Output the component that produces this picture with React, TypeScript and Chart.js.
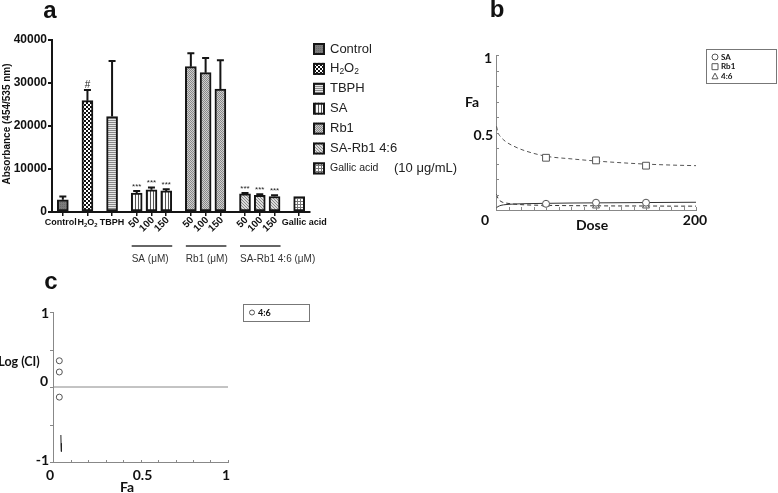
import React, { useEffect, useRef } from "react";
import { Chart, registerables } from "chart.js";

Chart.register(...registerables);

const FONT_A = '"Liberation Sans", Arial, sans-serif';
const FONT_BC = 'Lato, "Noto Sans", sans-serif';

// ---------------- Panel a data ----------------
const barLabels = ["Control", "H₂O₂", "TBPH", "50", "100", "150", "50", "100", "150", "50", "100", "150", "Gallic acid"];
const barGroups = ["", "", "", "SA (μM)", "SA (μM)", "SA (μM)", "Rb1 (μM)", "Rb1 (μM)", "Rb1 (μM)", "SA-Rb1 4:6 (μM)", "SA-Rb1 4:6 (μM)", "SA-Rb1 4:6 (μM)", ""];
const barFills = ["Control", "H2O2", "TBPH", "SA", "SA", "SA", "Rb1", "Rb1", "Rb1", "SARb1", "SARb1", "SARb1", "Gallic"];
const absorbance = [2850, 25900, 22200, 4400, 5150, 4900, 33800, 32400, 28600, 4200, 3850, 3600, 3600];
const absorbanceErr = [750, 2500, 12900, 500, 550, 400, 3100, 3400, 6700, 200, 300, 300, 0];
const significance = ["", "#", "", "***", "***", "***", "", "", "", "***", "***", "***", ""];
const yTicksA = [0, 10000, 20000, 30000, 40000];
const yTitleA = "Absorbance (454/535 nm)";
const legendLabelsA = ["Control", "H₂O₂", "TBPH", "SA", "Rb1", "SA-Rb1 4:6", "Gallic acid"];
const legendFillsA = ["Control", "H2O2", "TBPH", "SA", "Rb1", "SARb1", "Gallic"];
const gallicNote = "(10 μg/mL)";

// ---------------- Panel b data ----------------
const doseMarks = [50, 100, 150];
const faSA = [0.04, 0.047, 0.047];
const faRb1 = [0.337, 0.32, 0.286];
const fa46 = [0.038, 0.026, 0.026];
const curveDoses = [0.5, 2, 5, 10, 20, 30, 50, 75, 100, 125, 150, 175, 200];
const curveSA = [0.015, 0.022, 0.03, 0.035, 0.039, 0.041, 0.043, 0.045, 0.046, 0.047, 0.048, 0.049, 0.05];
const curveRb1 = [0.54, 0.5, 0.47, 0.44, 0.405, 0.38, 0.347, 0.33, 0.316, 0.305, 0.296, 0.29, 0.286];
const curve46 = [0.1, 0.075, 0.055, 0.045, 0.037, 0.033, 0.03, 0.028, 0.027, 0.026, 0.026, 0.025, 0.025];
const legendLabelsB = ["SA", "Rb1", "4:6"];

// ---------------- Panel c data ----------------
const faCombo = [0.036, 0.036, 0.036];
const logCI = [0.35, 0.2, -0.135];
const ciCurveFa = [0.045, 0.046, 0.048];
const ciCurveLog = [-0.64, -0.75, -0.86];
const refLineFa = [0, 1];
const refLineLog = [0, 0];
const legendLabelC = "4:6";

// ---------------- helpers ----------------
const SUB = "₀₁₂₃₄₅₆₇₈₉";
function drawRich(ctx: any, text: string, x: number, y: number, size: number, weight: string, family: string, align: string) {
  const parts = [...text].map((ch) => {
    const k = SUB.indexOf(ch);
    return k >= 0 ? { t: String(k), sub: true } : { t: ch, sub: false };
  });
  const fontFor = (p: any) => `${weight} ${p.sub ? size * 0.65 : size}px ${family}`;
  let total = 0;
  parts.forEach((p) => {
    ctx.font = fontFor(p);
    total += ctx.measureText(p.t).width;
  });
  let cx = align === "center" ? x - total / 2 : align === "right" ? x - total : x;
  ctx.textAlign = "left";
  parts.forEach((p) => {
    ctx.font = fontFor(p);
    ctx.fillText(p.t, cx, y + (p.sub ? size * 0.25 : 0));
    cx += ctx.measureText(p.t).width;
  });
}

function barSlots() {
  const out: number[] = [];
  let s = 0;
  barLabels.forEach((_, i) => {
    if (i > 0) s += barGroups[i] && barGroups[i] === barGroups[i - 1] ? 3 : 5;
    out.push(s);
  });
  return out;
}

function makePatterns() {
  const mk = (w: number, h: number, draw: (g: any) => void) => {
    const c = document.createElement("canvas");
    c.width = w;
    c.height = h;
    const g = c.getContext("2d") as any;
    draw(g);
    return g.createPattern(c, "repeat");
  };
  return {
    Control: mk(2, 2, (g) => {
      g.fillStyle = "#7c7c7c"; g.fillRect(0, 0, 2, 2);
      g.fillStyle = "#6a6a6a"; g.fillRect(0, 0, 1, 1);
    }),
    H2O2: mk(4, 4, (g) => {
      g.fillStyle = "#fff"; g.fillRect(0, 0, 4, 4);
      g.fillStyle = "#111"; g.fillRect(0, 0, 2, 2); g.fillRect(2, 2, 2, 2);
    }),
    TBPH: mk(2, 2, (g) => {
      g.fillStyle = "#e6e6e6"; g.fillRect(0, 0, 2, 2);
      g.fillStyle = "#888"; g.fillRect(0, 0, 2, 1);
    }),
    SA: mk(3, 3, (g) => {
      g.fillStyle = "#fafafa"; g.fillRect(0, 0, 3, 3);
      g.fillStyle = "#555"; g.fillRect(0, 0, 1, 3);
    }),
    Rb1: mk(2, 2, (g) => {
      g.fillStyle = "#cfcfcf"; g.fillRect(0, 0, 2, 2);
      g.fillStyle = "#888"; g.fillRect(0, 0, 1, 1); g.fillRect(1, 1, 1, 1);
    }),
    SARb1: mk(3, 3, (g) => {
      g.fillStyle = "#dcdcdc"; g.fillRect(0, 0, 3, 3);
      g.fillStyle = "#8a8a8a"; g.fillRect(0, 0, 1, 1); g.fillRect(1, 1, 1, 1); g.fillRect(2, 2, 1, 1);
    }),
    Gallic: mk(3, 3, (g) => {
      g.fillStyle = "#fff"; g.fillRect(0, 0, 3, 3);
      g.fillStyle = "#777"; g.fillRect(0, 0, 3, 1); g.fillRect(0, 0, 1, 3);
    }),
  } as any;
}

// ---------------- Panel a ----------------
function configA(patterns: any) {
  const slots = barSlots();
  const plugin = {
    id: "panelA",
    afterDatasetsDraw(chart: any) {
      const ctx = chart.ctx;
      const meta = chart.getDatasetMeta(0);
      const ys = chart.scales.y;
      ctx.save();
      meta.data.forEach((bar: any, i: number) => {
        const top = ys.getPixelForValue(absorbance[i] + absorbanceErr[i]);
        if (absorbanceErr[i] > 0) {
          ctx.strokeStyle = "#151515";
          ctx.lineWidth = 2;
          ctx.beginPath();
          ctx.moveTo(bar.x, bar.y);
          ctx.lineTo(bar.x, top);
          ctx.moveTo(bar.x - 3.5, top);
          ctx.lineTo(bar.x + 3.5, top);
          ctx.stroke();
        }
        if (significance[i]) {
          ctx.fillStyle = "#222";
          ctx.font = `${significance[i] === "#" ? 10 : 8}px ${FONT_A}`;
          ctx.textAlign = "center";
          ctx.textBaseline = "alphabetic";
          ctx.fillText(significance[i], bar.x, top - 2);
        }
      });
      ctx.restore();
    },
    afterDraw(chart: any) {
      const ctx = chart.ctx;
      const meta = chart.getDatasetMeta(0);
      ctx.save();
      ctx.fillStyle = "#111";
      // x labels
      meta.data.forEach((bar: any, i: number) => {
        if (barGroups[i]) {
          ctx.save();
          ctx.translate(bar.x + 1.5, 218.5);
          ctx.rotate(-Math.PI / 4);
          ctx.font = `bold 10px ${FONT_A}`;
          ctx.textAlign = "right";
          ctx.textBaseline = "middle";
          ctx.fillText(barLabels[i], 0, 0);
          ctx.restore();
        } else {
          ctx.textBaseline = "middle";
          const dx = i === 0 ? -2 : i === barLabels.length - 1 ? 5 : 0;
          drawRich(ctx, barLabels[i], bar.x + dx, 223, 9, "bold", FONT_A, "center");
        }
      });
      // group lines and labels
      const groups: string[] = [];
      barGroups.forEach((g) => { if (g && !groups.includes(g)) groups.push(g); });
      groups.forEach((g) => {
        const idx = barGroups.map((v, i) => (v === g ? i : -1)).filter((i) => i >= 0);
        const x1 = meta.data[idx[0]].x - 5;
        const x2 = meta.data[idx[idx.length - 1]].x + 6;
        ctx.strokeStyle = "#333";
        ctx.lineWidth = 1.5;
        ctx.beginPath();
        ctx.moveTo(x1, 246);
        ctx.lineTo(x2, 246);
        ctx.stroke();
        ctx.fillStyle = "#333";
        ctx.font = `10px ${FONT_A}`;
        ctx.textAlign = "left";
        ctx.textBaseline = "middle";
        ctx.fillText(g, x1, 259);
      });
      // y title
      ctx.save();
      ctx.translate(7, 124);
      ctx.rotate(-Math.PI / 2);
      ctx.fillStyle = "#111";
      ctx.font = `bold 10px ${FONT_A}`;
      ctx.textAlign = "center";
      ctx.textBaseline = "middle";
      ctx.fillText(yTitleA, 0, 0);
      ctx.restore();
      // legend
      legendLabelsA.forEach((lab, i) => {
        const cy = 49 + i * 19.9;
        ctx.fillStyle = patterns[legendFillsA[i]];
        ctx.fillRect(313, cy - 6, 12, 12);
        ctx.strokeStyle = "#151515";
        ctx.lineWidth = 2;
        ctx.strokeRect(314, cy - 5, 10, 10);
        ctx.fillStyle = "#222";
        ctx.textBaseline = "middle";
        const size = lab === "Gallic acid" ? 10.5 : 13;
        drawRich(ctx, lab, 330, cy, size, "normal", FONT_A, "left");
        if (lab === "Gallic acid") {
          ctx.font = `13px ${FONT_A}`;
          ctx.textAlign = "left";
          ctx.fillText(gallicNote, 394, cy);
        }
      });
      // panel letter
      ctx.fillStyle = "#111";
      ctx.font = `bold 24px ${FONT_A}`;
      ctx.textAlign = "center";
      ctx.textBaseline = "alphabetic";
      ctx.fillText("a", 50, 18);
      ctx.restore();
    },
  };
  return {
    type: "bar",
    data: {
      datasets: [
        {
          data: slots.map((s, i) => ({ x: s, y: absorbance[i] })),
          backgroundColor: barFills.map((k) => patterns[k]),
          borderColor: "#151515",
          borderWidth: 2,
          borderSkipped: false,
          barThickness: 11,
        },
      ],
    },
    options: {
      animation: false,
      responsive: true,
      maintainAspectRatio: false,
      events: [],
      layout: { padding: { left: 0, top: 40, right: 150, bottom: 0 } },
      plugins: { legend: { display: false }, tooltip: { enabled: false } },
      scales: {
        x: {
          type: "linear",
          min: -2.2,
          max: 50.2,
          offset: false,
          afterBuildTicks: (s: any) => { s.ticks = slots.map((v) => ({ value: v })); },
          afterFit: (s: any) => { s.height = 78; },
          ticks: { display: false },
          grid: { display: true, offset: false, drawOnChartArea: false, drawTicks: true, tickLength: 4, color: "#151515", lineWidth: 1.5 },
          border: { display: true, color: "#151515", width: 2 },
        },
        y: {
          type: "linear",
          min: 0,
          max: 40000,
          afterBuildTicks: (s: any) => { s.ticks = yTicksA.map((v) => ({ value: v })); },
          afterFit: (s: any) => { s.width = 52; },
          ticks: { font: { family: FONT_A, weight: "bold", size: 12 }, color: "#111", padding: 1, callback: (v: any) => String(v) },
          grid: { display: true, drawOnChartArea: false, drawTicks: true, tickLength: 4, color: "#151515", lineWidth: 2 },
          border: { display: true, color: "#151515", width: 2 },
        },
      },
    },
    plugins: [plugin],
  } as any;
}

// ---------------- Panel b ----------------
function drawMarker(ctx: any, style: string, x: number, y: number, r: number) {
  ctx.beginPath();
  if (style === "circle") ctx.arc(x, y, r, 0, Math.PI * 2);
  else if (style === "rect") ctx.rect(x - r, y - r, 2 * r, 2 * r);
  else {
    ctx.moveTo(x, y - r * 1.1);
    ctx.lineTo(x + r, y + r * 0.8);
    ctx.lineTo(x - r, y + r * 0.8);
    ctx.closePath();
  }
  ctx.fillStyle = "#fff";
  ctx.fill();
  ctx.stroke();
}

function configB() {
  const markerStyles = ["circle", "rect", "triangle"];
  const plugin = {
    id: "panelB",
    afterDraw(chart: any) {
      const ctx = chart.ctx;
      const xs = chart.scales.x;
      const ys = chart.scales.y;
      const { left, bottom } = chart.chartArea;
      ctx.save();
      ctx.strokeStyle = "#888";
      ctx.lineWidth = 1;
      ctx.beginPath();
      for (let v = 0; v <= 1.0001; v += 0.1) {
        const y = Math.round(ys.getPixelForValue(v)) + 0.5;
        ctx.moveTo(left, y);
        ctx.lineTo(left + 3, y);
      }
      for (let v = 12.5; v <= 200; v += 12.5) {
        const x = Math.round(xs.getPixelForValue(v)) + 0.5;
        ctx.moveTo(x, bottom);
        ctx.lineTo(x, bottom - 3);
      }
      ctx.stroke();
      ctx.fillStyle = "#111";
      ctx.font = `bold 14px ${FONT_BC}`;
      ctx.textBaseline = "middle";
      ctx.textAlign = "right";
      ctx.fillText("1", left - 4, ys.getPixelForValue(1) + 3);
      ctx.fillText("0.5", left - 3, ys.getPixelForValue(0.5) + 2.5);
      ctx.textAlign = "center";
      ctx.fillText("0", xs.getPixelForValue(0) - 11, bottom + 10);
      ctx.fillText("200", xs.getPixelForValue(200) - 1, bottom + 10);
      ctx.fillText("Fa", 12, 102);
      ctx.fillText("Dose", 132, 225);
      // legend
      ctx.strokeStyle = "#777";
      ctx.lineWidth = 1;
      ctx.strokeRect(246.5, 49.5, 70, 34);
      legendLabelsB.forEach((lab, i) => {
        const cy = 57 + i * 9.7;
        ctx.strokeStyle = "#555";
        drawMarker(ctx, markerStyles[i], 255, cy, 3);
        ctx.fillStyle = "#111";
        ctx.font = `bold 8px ${FONT_BC}`;
        ctx.textAlign = "left";
        ctx.fillText(lab, 261, cy);
      });
      ctx.fillStyle = "#111";
      ctx.font = `bold 24px ${FONT_A}`;
      ctx.textAlign = "center";
      ctx.textBaseline = "alphabetic";
      ctx.fillText("b", 37, 17);
      ctx.restore();
    },
  };
  const pts = (xs: number[], ys: number[]) => xs.map((x, i) => ({ x, y: ys[i] }));
  const marker = { showLine: false, borderColor: "#555", backgroundColor: "#fff", borderWidth: 1 };
  const curve = { showLine: true, pointRadius: 0, borderWidth: 1, cubicInterpolationMode: "monotone" };
  return {
    type: "scatter",
    data: {
      datasets: [
        { ...marker, label: "SA", data: pts(doseMarks, faSA), pointStyle: "circle", pointRadius: 3.5 },
        { ...marker, label: "Rb1", data: pts(doseMarks, faRb1), pointStyle: "rect", pointRadius: 4.8 },
        { ...marker, label: "4:6", data: pts(doseMarks, fa46), pointStyle: "triangle", pointRadius: 4 },
        { ...curve, label: "SA fit", data: pts(curveDoses, curveSA), borderColor: "#333" },
        { ...curve, label: "Rb1 fit", data: pts(curveDoses, curveRb1), borderColor: "#555", borderDash: [4, 3] },
        { ...curve, label: "4:6 fit", data: pts(curveDoses, curve46), borderColor: "#333", borderDash: [4, 3] },
      ],
    },
    options: {
      animation: false,
      responsive: true,
      maintainAspectRatio: false,
      events: [],
      layout: { padding: { left: 0, top: 55, right: 82, bottom: 0 } },
      plugins: { legend: { display: false }, tooltip: { enabled: false } },
      scales: {
        x: {
          type: "linear", min: 0, max: 200,
          afterFit: (s: any) => { s.height = 30; },
          ticks: { display: false },
          grid: { display: true, drawOnChartArea: false, drawTicks: false },
          border: { display: true, color: "#888", width: 1 },
        },
        y: {
          type: "linear", min: 0, max: 1,
          afterFit: (s: any) => { s.width = 36; },
          ticks: { display: false },
          grid: { display: true, drawOnChartArea: false, drawTicks: false },
          border: { display: true, color: "#888", width: 1 },
        },
      },
    },
    plugins: [plugin],
  } as any;
}

// ---------------- Panel c ----------------
function configC() {
  const plugin = {
    id: "panelC",
    afterDraw(chart: any) {
      const ctx = chart.ctx;
      const xs = chart.scales.x;
      const ys = chart.scales.y;
      const { left, bottom } = chart.chartArea;
      ctx.save();
      ctx.strokeStyle = "#888";
      ctx.lineWidth = 1;
      ctx.beginPath();
      for (let v = -1; v <= 1.0001; v += 0.5) {
        const y = Math.round(ys.getPixelForValue(v)) + 0.5;
        ctx.moveTo(left, y);
        ctx.lineTo(left - 3, y);
      }
      for (let v = 0.1; v <= 1.0001; v += 0.1) {
        const x = Math.round(xs.getPixelForValue(v)) + 0.5;
        ctx.moveTo(x, bottom);
        ctx.lineTo(x, bottom - 2);
      }
      ctx.stroke();
      ctx.fillStyle = "#111";
      ctx.font = `bold 14px ${FONT_BC}`;
      ctx.textBaseline = "middle";
      ctx.textAlign = "right";
      ctx.fillText("1", left - 4, ys.getPixelForValue(1) + 1);
      ctx.fillText("0", left - 5, ys.getPixelForValue(0) - 6);
      ctx.fillText("-1", left - 4, ys.getPixelForValue(-1) - 2);
      ctx.textAlign = "center";
      ctx.fillText("0", xs.getPixelForValue(0) - 3, bottom + 13);
      ctx.fillText("0.5", xs.getPixelForValue(0.5) + 2, bottom + 13);
      ctx.fillText("1", xs.getPixelForValue(1) - 2, bottom + 13);
      ctx.fillText("Fa", 127, bottom + 25);
      ctx.font = `bold 12.5px ${FONT_BC}`;
      ctx.fillText("Log (CI)", 19, 97);
      // legend
      ctx.strokeStyle = "#777";
      ctx.lineWidth = 1;
      ctx.strokeRect(243.5, 39.5, 66, 17);
      ctx.strokeStyle = "#555";
      drawMarker(ctx, "circle", 252, 47.5, 2.5);
      ctx.fillStyle = "#111";
      ctx.font = `bold 9px ${FONT_BC}`;
      ctx.textAlign = "left";
      ctx.fillText(legendLabelC, 258, 48.5);
      ctx.font = `bold 24px ${FONT_A}`;
      ctx.textAlign = "center";
      ctx.textBaseline = "alphabetic";
      ctx.fillText("c", 51, 24);
      ctx.restore();
    },
  };
  const pts = (xs: number[], ys: number[]) => xs.map((x, i) => ({ x, y: ys[i] }));
  return {
    type: "scatter",
    data: {
      datasets: [
        { label: "4:6", data: pts(faCombo, logCI), showLine: false, pointStyle: "circle", pointRadius: 3, borderColor: "#555", backgroundColor: "#fff", borderWidth: 1 },
        { label: "CI curve", data: pts(ciCurveFa, ciCurveLog), showLine: true, pointRadius: 0, borderColor: "#222", borderWidth: 1 },
        { label: "CI = 1", data: pts(refLineFa, refLineLog), showLine: true, pointRadius: 0, borderColor: "#888", borderWidth: 1 },
      ],
    },
    options: {
      animation: false,
      responsive: true,
      maintainAspectRatio: false,
      events: [],
      layout: { padding: { left: 0, top: 47, right: 232, bottom: 0 } },
      plugins: { legend: { display: false }, tooltip: { enabled: false } },
      scales: {
        x: {
          type: "linear", min: 0, max: 1,
          afterFit: (s: any) => { s.height = 31; },
          ticks: { display: false },
          grid: { display: true, drawOnChartArea: false, drawTicks: false },
          border: { display: true, color: "#888", width: 1 },
        },
        y: {
          type: "linear", min: -1, max: 1,
          afterFit: (s: any) => { s.width = 53; },
          ticks: { display: false },
          grid: { display: true, drawOnChartArea: false, drawTicks: false },
          border: { display: true, color: "#888", width: 1 },
        },
      },
    },
    plugins: [plugin],
  } as any;
}

export default function App() {
  const refA = useRef<HTMLCanvasElement>(null);
  const refB = useRef<HTMLCanvasElement>(null);
  const refC = useRef<HTMLCanvasElement>(null);
  useEffect(() => {
    const patterns = makePatterns();
    const a = new Chart(refA.current as any, configA(patterns));
    const b = new Chart(refB.current as any, configB());
    const c = new Chart(refC.current as any, configC());
    return () => {
      a.destroy();
      b.destroy();
      c.destroy();
    };
  }, []);
  return (
    <div style={{ position: "absolute", left: 0, top: 0, width: 778, height: 493, background: "#fff", overflow: "hidden" }}>
      <div style={{ position: "absolute", left: 0, top: 0, width: 460, height: 290 }}>
        <canvas ref={refA} />
      </div>
      <div style={{ position: "absolute", left: 460, top: 0, width: 318, height: 240 }}>
        <canvas ref={refB} />
      </div>
      <div style={{ position: "absolute", left: 0, top: 265, width: 460, height: 228 }}>
        <canvas ref={refC} />
      </div>
    </div>
  );
}
